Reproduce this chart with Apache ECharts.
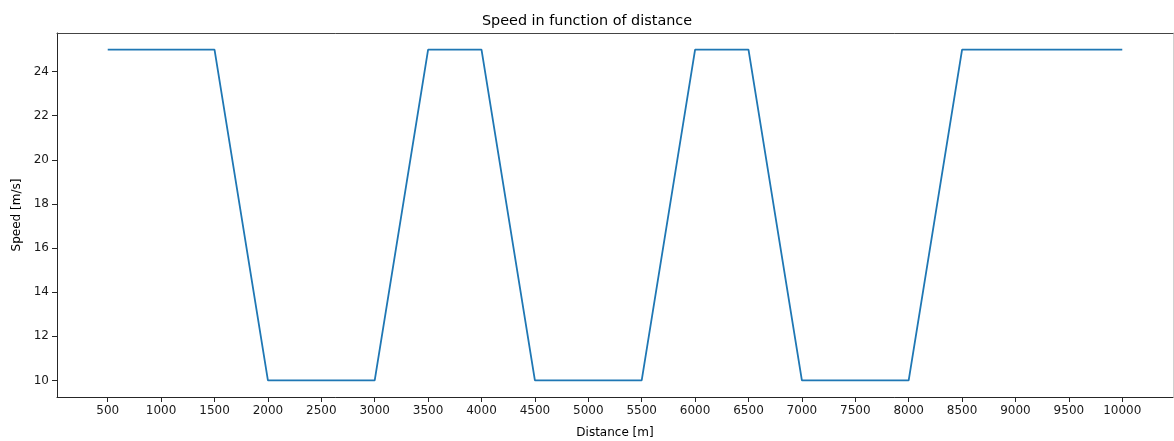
<!DOCTYPE html>
<html>

<head>
  <meta charset="utf-8" />
  <script src="https://cdn.jsdelivr.net/npm/echarts@6/dist/echarts.min.js"></script>
</head>

<body style="margin:0;background:#fff;">
  <div id="main" style="width: 1174px;height:441px;"></div>
  <script type="text/javascript">
    var distance = [500, 1000, 1500, 2000, 2500, 3000, 3500, 4000, 4500, 5000,
      5500, 6000, 6500, 7000, 7500, 8000, 8500, 9000, 9500, 10000]
    var speed = [25, 25, 25, 10, 10, 10, 25, 25, 10, 10,
      10, 25, 25, 10, 10, 10, 25, 25, 25, 25]
    var xTicks = [500, 1000, 1500, 2000, 2500, 3000, 3500, 4000, 4500, 5000,
      5500, 6000, 6500, 7000, 7500, 8000, 8500, 9000, 9500, 10000]
    var yTicks = [10, 12, 14, 16, 18, 20, 22, 24]

    var points = distance.map(function (d, i) { return [d, speed[i]] })

    var font = 'DejaVu Sans'
    var myChart = echarts.init(document.getElementById('main'))

    // plain frame axes for the top and right spines
    var frameAxis = {
      type: 'value',
      axisTick: { show: false },
      axisLabel: { show: false },
      splitLine: { show: false }
    }

    var option = {
      animation: false,
      backgroundColor: '#fff',
      title: {
        left: 'center',
        top: 9,
        text: 'Speed in function of distance',
        textStyle: { fontFamily: font, fontSize: 14.4, fontWeight: 'normal', color: '#000' }
      },
      grid: {
        left: 57, top: 33, width: 1116, height: 364,
        outerBoundsMode: 'none',
        containLabel: false
      },
      xAxis: [{
        type: 'value',
        min: 25,
        max: 10475,
        name: 'Distance [m]',
        nameLocation: 'middle',
        nameGap: 30,
        nameTextStyle: { fontFamily: font, fontSize: 12, color: '#000', verticalAlign: 'top' },
        splitLine: { show: false },
        axisLine: { lineStyle: { color: '#262626', width: 1 } },
        axisTick: { show: true, length: 5, customValues: xTicks, lineStyle: { color: '#262626' } },
        axisLabel: {
          customValues: xTicks, margin: 8, fontFamily: font, fontSize: 12, color: '#1a1a1a',
          formatter: function (v) { return String(v) }
        }
      }, Object.assign({}, frameAxis, {
        position: 'top', min: 25, max: 10475,
        axisLine: { show: true, lineStyle: { color: '#444', width: 1 } }
      })],
      yAxis: [{
        type: 'value',
        min: 9.25,
        max: 25.75,
        name: 'Speed [m/s]',
        nameLocation: 'middle',
        nameGap: 32,
        nameTextStyle: { fontFamily: font, fontSize: 12, color: '#000' },
        splitLine: { show: false },
        axisLine: { show: true, lineStyle: { color: '#262626', width: 1 } },
        axisTick: { show: true, length: 5, customValues: yTicks, lineStyle: { color: '#262626' } },
        axisLabel: {
          customValues: yTicks, margin: 8, fontFamily: font, fontSize: 12, color: '#1a1a1a',
          formatter: function (v) { return String(v) }
        }
      }, Object.assign({}, frameAxis, {
        position: 'right', min: 9.25, max: 25.75,
        axisLine: { show: true, lineStyle: { color: '#d0d0d0', width: 1 } }
      })],
      series: [
        {
          type: 'line',
          data: points,
          showSymbol: false,
          lineStyle: { color: '#1f77b4', width: 1.8 },
          itemStyle: { color: '#1f77b4' }
        }
      ]
    }

    myChart.setOption(option)
  </script>
</body>

</html>
